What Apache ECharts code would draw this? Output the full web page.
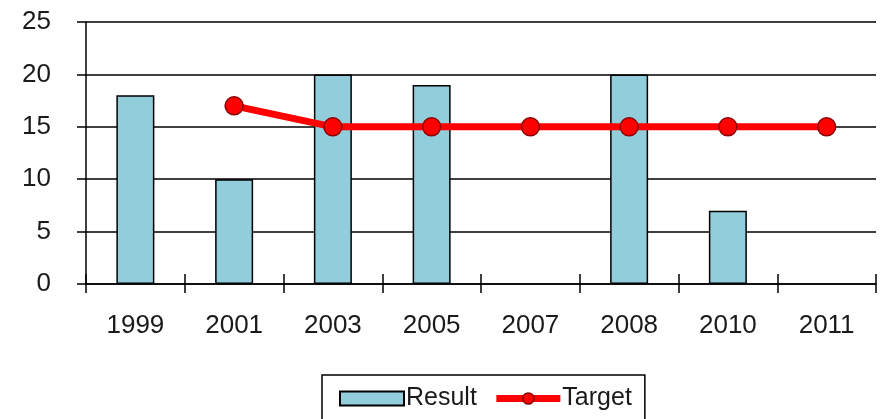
<!DOCTYPE html>
<html><head><meta charset="utf-8">
<script src="https://cdn.jsdelivr.net/npm/echarts@6/dist/echarts.min.js"></script>
<style>html,body{margin:0;padding:0;background:#fff}#c{width:883px;height:419px}</style>
</head><body><div id="c"></div>
<script>
const categories = ['1999','2001','2003','2005','2007','2008','2010','2011'];
const resultValues = [18, 10, 20, 19, null, 20, 7, null];
const targetValues = [null, 17, 15, 15, 15, 15, 15, 15];
const yTicks = [0, 5, 10, 15, 20, 25];

const font = "'Liberation Sans', Arial, sans-serif";
const chart = echarts.init(document.getElementById('c'), null, {renderer: 'canvas'});
chart.setOption({
  animation: false,
  backgroundColor: '#fff',
  grid: {left: 86, right: 7, top: 22, bottom: 135, containLabel: false},
  xAxis: [{
    type: 'category', data: categories, boundaryGap: true,
    axisLine: {lineStyle: {color: '#000', width: 1.5}},
    axisTick: {show: true, inside: false, length: 9, lineStyle: {color: '#000', width: 1.5}},
    axisLabel: {color: '#1a1a1a', fontSize: 26, fontFamily: font, margin: 29},
    splitLine: {show: false}
  }, {
    type: 'category', data: categories, boundaryGap: true, position: 'bottom',
    axisLine: {show: false},
    axisTick: {show: true, inside: true, length: 10, lineStyle: {color: '#000', width: 1.5}},
    axisLabel: {show: false},
    splitLine: {show: false}
  }],
  yAxis: {
    type: 'value', min: yTicks[0], max: yTicks[yTicks.length - 1], interval: 5,
    axisLine: {show: true, lineStyle: {color: '#000', width: 1.5}},
    axisTick: {show: true, length: 9, lineStyle: {color: '#000', width: 1.5}},
    axisLabel: {color: '#1a1a1a', fontSize: 26, fontFamily: font, margin: 35},
    splitLine: {show: true, lineStyle: {color: '#000', width: 1.5}}
  },
  legend: {
    data: [
      {name: 'Result', icon: 'rect'},
      {name: 'Target', lineStyle: {color: '#ff0000', width: 7}, itemStyle: {color: '#ff0000', borderColor: '#8a0000', borderWidth: 1.5}}
    ],
    left: 322, top: 375,
    orient: 'horizontal',
    padding: [11, 13, 30, 17],
    borderColor: '#000', borderWidth: 1.5,
    itemWidth: 64, itemHeight: 14, itemGap: 16,
    textStyle: {color: '#1a1a1a', fontSize: 25, fontFamily: font, padding: [0, 0, 0, -3]}
  },
  series: [{
    name: 'Result', type: 'bar', data: resultValues, barWidth: 38,
    itemStyle: {color: '#92CDDC', borderColor: '#000', borderWidth: 1.5},
    z: 2
  }, {
    name: 'Target', type: 'line', data: targetValues,
    symbol: 'circle', symbolSize: 18,
    lineStyle: {color: '#ff0000', width: 7},
    itemStyle: {color: '#ff0000', borderColor: '#8a0000', borderWidth: 1.5},
    z: 3
  }]
});
</script></body></html>
